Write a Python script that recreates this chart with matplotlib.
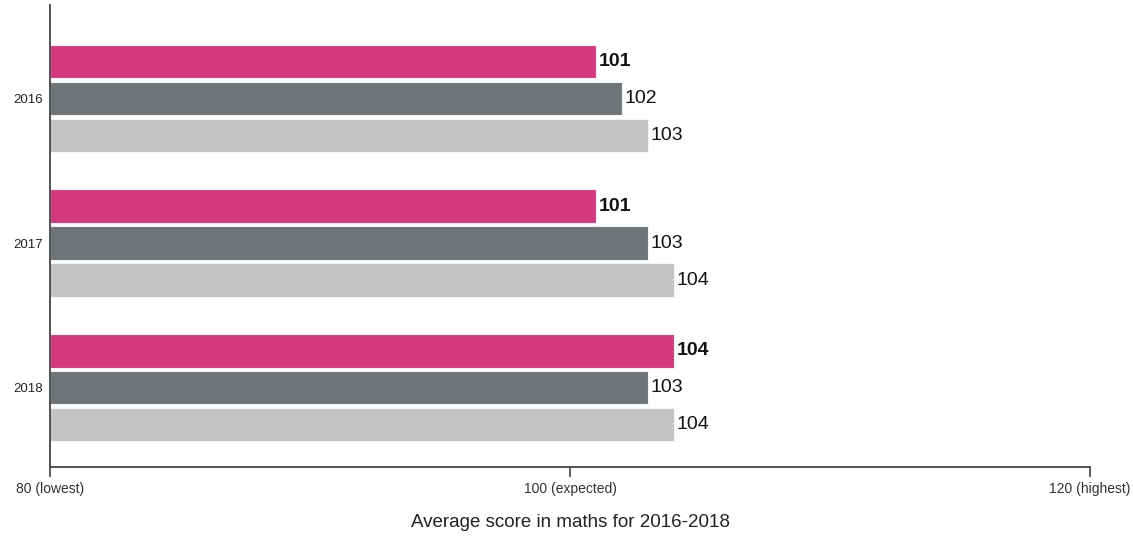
import matplotlib
matplotlib.use("Agg")
import matplotlib.pyplot as plt
import numpy as np

years = ["2016", "2017", "2018"]
series_names = ["School", "Local authority", "England"]
school = [101, 101, 104]
local = [102, 103, 103]
england = [103, 104, 104]
colors = ["#D6387F", "#6E7477", "#C2C3C4"]
xticks = [80, 100, 120]
xticklabels = ["80 (lowest)", "100 (expected)", "120 (highest)"]

plt.rcParams['font.family'] = ['Liberation Sans', 'DejaVu Sans']

fig = plt.figure(figsize=(11.33, 5.37), dpi=100)
ax = fig.add_axes([50/1133, 70/537, 1040/1133, 462/537])

pitch = 0.256
height = 0.235
series = [school, local, england]
for j, (vals, c) in enumerate(zip(series, colors)):
    ys = np.arange(len(years)) + (j - 1) * pitch
    ax.barh(ys, np.array(vals) - 80, left=80, height=height, color=c,
            edgecolor="#f4f4f4", linewidth=0.8)
    for y, v in zip(ys, vals):
        ax.text(v + 0.1, y, str(v), va="center", ha="left", fontsize=14,
                fontweight="bold" if j == 0 else "normal", color="#111111")

ax.set_xlim(80, 120)
ax.set_ylim(2 + 0.550, -0.647)
ax.set_yticks(np.arange(len(years)))
ax.set_yticklabels(years, fontsize=9.5, color="#222222")
ax.tick_params(axis="y", length=0, pad=5)
ax.set_xticks(xticks)
ax.set_xticklabels(xticklabels, fontsize=10, color="#333333")
ax.tick_params(axis="x", length=7, width=1.2, color="#444444", pad=4)
for s in ["top", "right"]:
    ax.spines[s].set_visible(False)
for s in ["left", "bottom"]:
    ax.spines[s].set_color("#444444")
    ax.spines[s].set_linewidth(1.3)
ax.set_xlabel("Average score in maths for 2016-2018", fontsize=13.5, color="#222222", labelpad=13)

fig.savefig("out.png", dpi=100)
